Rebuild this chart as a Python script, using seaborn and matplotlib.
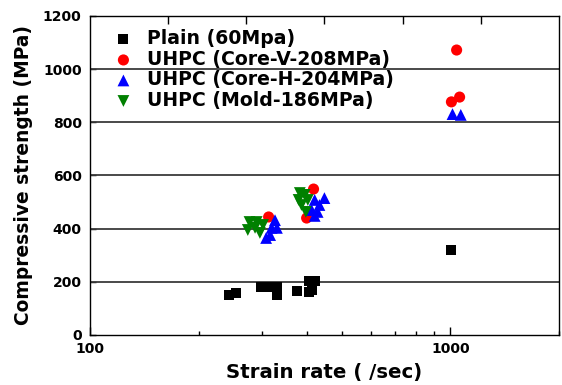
import numpy as np
import pandas as pd
import matplotlib
matplotlib.use("Agg")
import matplotlib.pyplot as plt
import seaborn as sns

# ---- data ----
plain_rate = [243, 254, 298, 310, 330, 330, 375, 404, 420, 404, 412, 412, 1005]
plain_str = [150, 157, 180, 182, 180, 152, 165, 203, 203, 162, 169, 184, 318]

corev_rate = [313, 417, 399, 1040, 1006, 1060]
corev_str = [444, 549, 440, 1072, 877, 895]

coreh_rate = [326, 330, 316, 308, 319, 420, 433, 447, 428, 420, 412, 1013, 1068]
coreh_str = [432, 403, 376, 365, 403, 508, 489, 515, 463, 448, 470, 831, 828]

mold_rate = [277, 287, 274, 296, 302, 290, 382, 394, 386, 397, 379, 402]
mold_str = [425, 403, 395, 384, 414, 425, 534, 527, 489, 463, 508, 508]

labels = ["Plain (60Mpa)", "UHPC (Core-V-208MPa)", "UHPC (Core-H-204MPa)", "UHPC (Mold-186MPa)"]
colors = ["#000000", "#ff0000", "#0000ff", "#008000"]
markers = ["s", "o", "^", "v"]
sizes = [52, 64, 72, 72]

x_ticks = [100, 1000]
y_ticks = [0, 200, 400, 600, 800, 1000, 1200]

sns.set_theme(style="white")
plt.rcParams["font.family"] = ["DejaVu Sans"]
plt.rcParams["font.weight"] = "bold"
plt.rcParams["text.color"] = "black"
plt.rcParams["axes.labelcolor"] = "black"
plt.rcParams["xtick.color"] = "black"
plt.rcParams["ytick.color"] = "black"

fig = plt.figure(figsize=(5.62, 3.85), dpi=100)
ax = fig.add_axes([90 / 562, 1 - 335 / 385, 469 / 562, 319 / 385])

series = [(plain_rate, plain_str), (corev_rate, corev_str), (coreh_rate, coreh_str), (mold_rate, mold_str)]
for (xr, yr), lab, c, m, s in zip(series, labels, colors, markers, sizes):
    df = pd.DataFrame({"rate": xr, "strength": yr})
    sns.scatterplot(data=df, x="rate", y="strength", ax=ax, color=c, marker=m,
                    s=s, linewidth=0, edgecolor="none", label=lab, zorder=3)

ax.set_xscale("log")
ax.set_xlim(100, 2000)
ax.set_ylim(0, 1200)
ax.set_xticks(x_ticks)
ax.set_xticklabels([str(v) for v in x_ticks])
ax.set_yticks(y_ticks)
ax.set_yticklabels([str(v) for v in y_ticks])
ax.xaxis.set_minor_locator(matplotlib.ticker.LogLocator(base=10, subs=np.arange(2, 10)))
ax.xaxis.set_minor_formatter(matplotlib.ticker.NullFormatter())

for yv in y_ticks[1:-1]:
    ax.axhline(yv, color="#3a3a3a", lw=1.3, zorder=1)

ax.tick_params(axis="x", which="major", direction="in", length=6, width=1, colors="black",
               labelsize=10, pad=5, bottom=True)
ax.tick_params(axis="x", which="minor", direction="in", length=3, width=1, colors="black", bottom=True)
ax.tick_params(axis="y", which="major", direction="in", length=4, width=1, colors="black",
               labelsize=10, pad=6, left=True)
for lab in ax.get_xticklabels() + ax.get_yticklabels():
    lab.set_fontweight("bold")
    lab.set_color("black")

for sp in ax.spines.values():
    sp.set_color("black")
    sp.set_linewidth(1.0)

top = ax.twiny()
top.set_xlim(0, 6)
top.set_xticks([1, 2, 3, 4, 5])
top.tick_params(axis="x", direction="in", length=6, width=1, colors="black", labeltop=False, top=True)
top.grid(False)
for sp in top.spines.values():
    sp.set_visible(False)

ax.set_xlabel("Strain rate ( /sec)", fontsize=14.2, fontweight="bold", labelpad=5, color="black")
ax.set_ylabel("Compressive strength (MPa)", fontsize=13.4, fontweight="bold", labelpad=7, color="black")

leg = ax.legend(loc="upper left", bbox_to_anchor=(0.035, 0.958), frameon=False,
                fontsize=13.6, labelspacing=0.08, handletextpad=0.35, borderpad=0,
                borderaxespad=0, scatterpoints=1, handlelength=1.8)
for t in leg.get_texts():
    t.set_fontweight("bold")
    t.set_color("black")

fig.savefig("out.png", dpi=100)
